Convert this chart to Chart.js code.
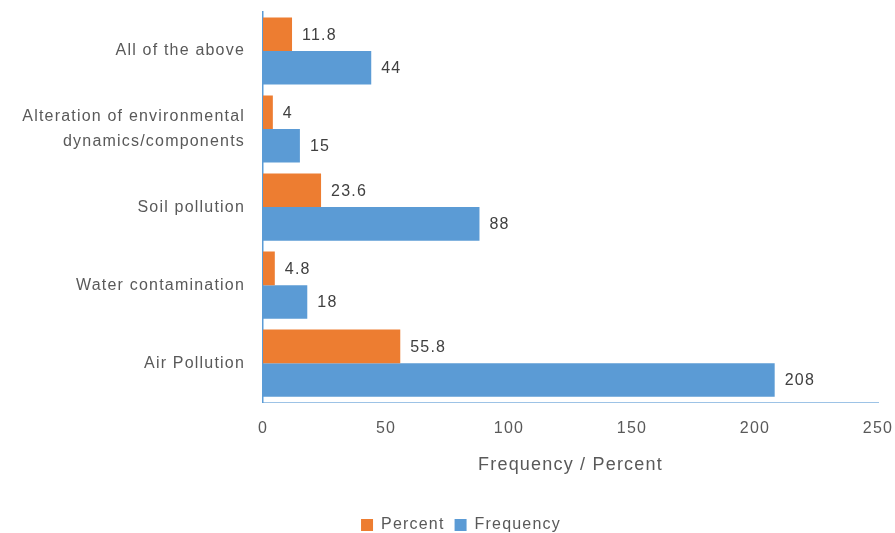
<!DOCTYPE html>
<html>
<head>
<meta charset="utf-8">
<script src="https://cdn.jsdelivr.net/npm/chart.js@4.4.1/dist/chart.umd.min.js"></script>
<style>
  html, body { margin: 0; padding: 0; background: #fff; }
  #wrap { width: 895px; height: 533px; }
</style>
</head>
<body>
<div id="wrap"><canvas id="barChart" width="895" height="533"></canvas></div>
<script>
    // Categories, top to bottom
    const categories = [
        'All of the above',
        ['Alteration of environmental', 'dynamics/components'],
        'Soil pollution',
        'Water contamination',
        'Air Pollution'
    ];
    const percentValues = [11.8, 4, 23.6, 4.8, 55.8];
    const frequencyValues = [44, 15, 88, 18, 208];
    const xTicks = [0, 50, 100, 150, 200, 250];

    const textColor = '#595959';
    const fontFamily = '"Liberation Sans", "DejaVu Sans", sans-serif';
    const spacing = '1.2px';

    // Slightly tracked-out text everywhere (canvas resets it on resize, so set it each pass)
    const tracking = {
        id: 'tracking',
        beforeUpdate(chart) { chart.ctx.letterSpacing = spacing; },
        beforeLayout(chart) { chart.ctx.letterSpacing = spacing; },
        beforeDraw(chart) { chart.ctx.letterSpacing = spacing; }
    };

    // Nudge the legend a bit to the right, under the plot
    const legendShift = {
        id: 'legendShift',
        afterLayout(chart) {
            if (chart.legend) {
                chart.legend.left += 22;
                chart.legend.right += 22;
            }
        }
    };

    // Write each bar's value just past its end
    const valueLabels = {
        id: 'valueLabels',
        afterDatasetsDraw(chart) {
            const ctx = chart.ctx;
            ctx.save();
            ctx.letterSpacing = spacing;
            ctx.font = '16px ' + fontFamily;
            ctx.fillStyle = '#404040';
            ctx.textAlign = 'left';
            ctx.textBaseline = 'middle';
            chart.data.datasets.forEach((ds, i) => {
                chart.getDatasetMeta(i).data.forEach((bar, j) => {
                    ctx.fillText(String(ds.data[j]), bar.x + 10, bar.y + 1);
                });
            });
            ctx.restore();
        }
    };

    const ctx = document.getElementById('barChart').getContext('2d');
    new Chart(ctx, {
        type: 'bar',
        data: {
            labels: categories,
            datasets: [{
                label: 'Percent',
                data: percentValues,
                backgroundColor: '#ED7D31',
                categoryPercentage: 0.86,
                barPercentage: 1.0
            }, {
                label: 'Frequency',
                data: frequencyValues,
                backgroundColor: '#5B9BD5',
                categoryPercentage: 0.86,
                barPercentage: 1.0
            }]
        },
        options: {
            indexAxis: 'y',
            responsive: false,
            animation: false,
            layout: { padding: { top: 12, right: 17, bottom: -10, left: 0 } },
            plugins: {
                legend: {
                    position: 'bottom',
                    labels: {
                        boxWidth: 12,
                        boxHeight: 12,
                        padding: 10,
                        color: textColor,
                        font: { family: fontFamily, size: 16 }
                    }
                },
                tooltip: { enabled: false }
            },
            scales: {
                x: {
                    min: 0,
                    max: 250,
                    afterBuildTicks: (scale) => { scale.ticks = xTicks.map(v => ({ value: v })); },
                    // let the last tick label run to the edge of the canvas
                    afterFit: (scale) => { scale.paddingRight = 0; },
                    grid: { display: false },
                    border: { display: true, color: '#9DC3E6', width: 1 },
                    ticks: {
                        color: textColor,
                        padding: 9,
                        font: { family: fontFamily, size: 16 }
                    },
                    title: {
                        display: true,
                        text: 'Frequency / Percent',
                        color: textColor,
                        padding: { top: 7, bottom: 31 },
                        font: { family: fontFamily, size: 18 }
                    }
                },
                y: {
                    grid: { display: false },
                    border: { display: true, color: '#5B9BD5', width: 1.5 },
                    afterFit: (scale) => {
                        scale.width = 263;
                        scale.paddingTop = 0;
                        scale.paddingBottom = 0;
                    },
                    ticks: {
                        color: textColor,
                        padding: 10,
                        font: { family: fontFamily, size: 16, lineHeight: 1.6 }
                    }
                }
            }
        },
        plugins: [tracking, legendShift, valueLabels]
    });
</script>
</body>
</html>
